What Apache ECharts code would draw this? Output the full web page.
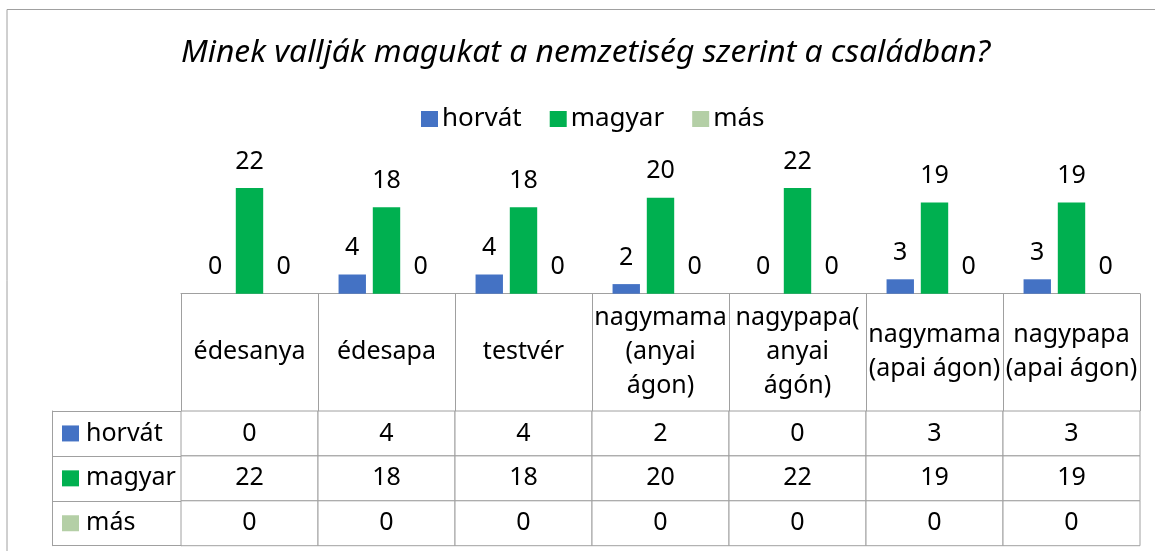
<!DOCTYPE html>
<html>
<head>
<meta charset="utf-8">
<script src="https://cdn.jsdelivr.net/npm/echarts@6/dist/echarts.min.js"></script>
<style>
  html, body { margin: 0; padding: 0; background: #fff; }
  #chart { width: 1155px; height: 551px; }
</style>
</head>
<body>
<div id="chart"></div>
<script>
// adatok
const categories = ['édesanya', 'édesapa', 'testvér', 'nagymama\n(anyai\nágon)', 'nagypapa(\nanyai\nágón)', 'nagymama\n(apai ágon)', 'nagypapa\n(apai ágon)'];
const seriesNames = ['horvát', 'magyar', 'más'];
const horvat = [0, 4, 4, 2, 0, 3, 3];
const magyar = [22, 18, 18, 20, 22, 19, 19];
const mas = [0, 0, 0, 0, 0, 0, 0];
const colors = ['#4472C4', '#00B050', '#B4CFA6'];

const font = 'Noto Sans';
const lineColor = '#A0A0A0';

// table cells: [column, row, value]
const rows = [horvat, magyar, mas];
const tableData = [];
rows.forEach((row, r) => {
  row.forEach((v, c) => tableData.push([c, r, v]));
});

const chart = echarts.init(document.getElementById('chart'));

const barSeries = rows.map((row, i) => ({
  name: seriesNames[i],
  type: 'bar',
  xAxisIndex: 0,
  yAxisIndex: 0,
  data: row,
  barCategoryGap: '30%',
  barGap: '25%',
  itemStyle: { color: colors[i] },
  label: {
    show: true,
    position: 'top',
    distance: 14,
    fontFamily: font,
    fontSize: 25,
    color: '#000'
  }
}));

const rich = {
  t: { fontFamily: font, fontSize: 25, color: '#000', padding: [0, 0, 0, 7], verticalAlign: 'middle' }
};
colors.forEach((c, i) => {
  rich['sq' + i] = { width: 17, height: 16, backgroundColor: c, verticalAlign: 'middle' };
});

const options = {
  animation: false,
  title: {
    text: 'Minek vallják magukat a nemzetiség szerint a családban?',
    left: 181,
    top: 37,
    padding: 0,
    textStyle: {
      fontFamily: font,
      fontStyle: 'italic',
      fontWeight: 'normal',
      fontSize: 31.8,
      color: '#000'
    }
  },
  legend: {
    data: seriesNames,
    left: 421,
    top: 106,
    padding: 0,
    icon: 'rect',
    itemWidth: 17,
    itemHeight: 16,
    itemGap: 28,
    textStyle: { fontFamily: font, fontSize: 26, color: '#000', padding: [0, 0, 0, -1] }
  },
  grid: [
    { left: 181, right: 15, top: 173.7, height: 120 },   // oszlopok
    { left: 181, right: 15, top: 411, height: 134.7 }    // adattábla
  ],
  xAxis: [
    {
      type: 'category',
      gridIndex: 0,
      data: categories,
      axisLine: { show: true, lineStyle: { color: lineColor, width: 1 } },
      axisTick: { show: true, interval: 0, length: 117.3, lineStyle: { color: lineColor, width: 1 } },
      axisLabel: {
        interval: 0,
        margin: 58.6,
        verticalAlign: 'middle',
        align: 'center',
        fontFamily: font,
        fontSize: 25,
        lineHeight: 34,
        color: '#000'
      },
      splitLine: { show: false }
    },
    {
      type: 'category',
      gridIndex: 1,
      data: categories,
      show: false
    }
  ],
  yAxis: [
    { type: 'value', gridIndex: 0, min: 0, max: 25, show: false },
    {
      type: 'category',
      gridIndex: 1,
      position: 'left',
      inverse: true,
      data: seriesNames,
      axisLine: { show: true, lineStyle: { color: lineColor, width: 1 } },
      axisTick: { show: true, interval: 0, length: 129, lineStyle: { color: lineColor, width: 1 } },
      axisLabel: {
        interval: 0,
        margin: 119,
        align: 'left',
        formatter: (value, idx) => '{sq' + idx + '|}{t|' + value + '}',
        rich: rich
      },
      splitLine: { show: false }
    },
    {
      // bal szél a sorcímkék mellett
      type: 'category',
      gridIndex: 1,
      position: 'left',
      offset: 129,
      inverse: true,
      data: seriesNames,
      axisLine: { show: true, lineStyle: { color: lineColor, width: 1 } },
      axisTick: { show: false },
      axisLabel: { show: false }
    }
  ],
  series: barSeries.concat([{
    type: 'custom',
    xAxisIndex: 1,
    yAxisIndex: 1,
    data: tableData,
    encode: { x: 0, y: 1 },
    silent: true,
    renderItem: (params, api) => {
      const p = api.coord([api.value(0), api.value(1)]);
      const s = api.size([1, 1]);
      return {
        type: 'group',
        children: [
          {
            type: 'rect',
            shape: { x: p[0] - s[0] / 2, y: p[1] - s[1] / 2, width: s[0], height: s[1] },
            style: { fill: '#fff', stroke: lineColor, lineWidth: 1 }
          },
          {
            type: 'text',
            style: {
              text: String(api.value(2)),
              x: p[0],
              y: p[1],
              align: 'center',
              verticalAlign: 'middle',
              fontFamily: font,
              fontSize: 25,
              fill: '#000'
            }
          }
        ]
      };
    }
  }]),
  graphic: [{
    // diagram kerete
    type: 'polyline',
    shape: { points: [[7, 551], [7, 9.5], [1155, 9.5]] },
    style: { stroke: lineColor, lineWidth: 1, fill: null }
  }]
};

chart.setOption(options);
</script>
</body>
</html>
